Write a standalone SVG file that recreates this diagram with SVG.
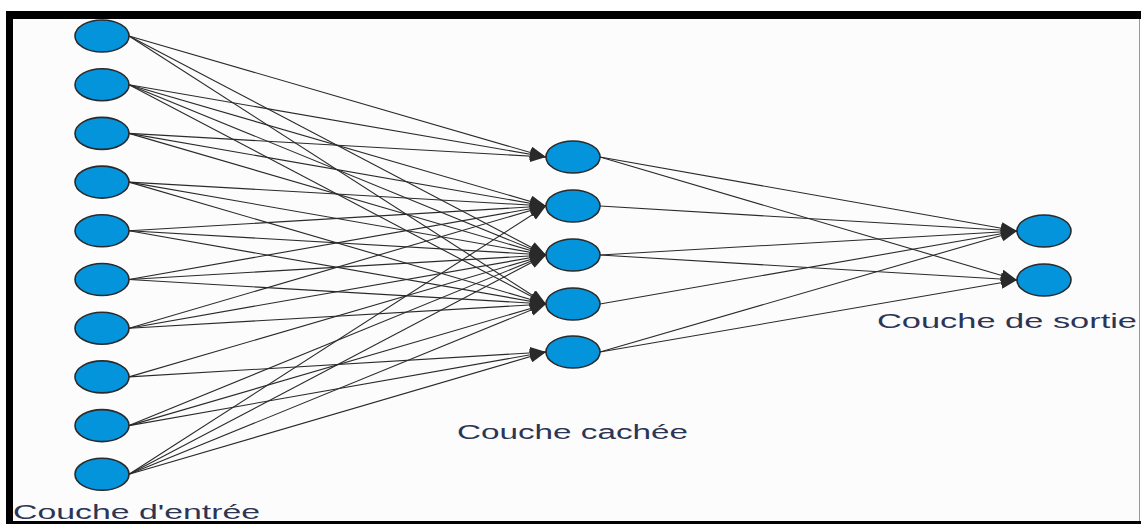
<svg xmlns="http://www.w3.org/2000/svg" width="1141" height="524" viewBox="0 0 1141 524">
<defs>
<marker id="arr" markerUnits="userSpaceOnUse" markerWidth="16" markerHeight="12" refX="16" refY="6" orient="auto">
<path d="M0,0 L16,6 L0,12 z" fill="#2a2a2a"/>
</marker>
<style>
.n{fill:#0394dc;stroke:#2a2a2a;stroke-width:1.6}
.e{stroke:#2a2a2a;stroke-width:1.1;fill:none;marker-end:url(#arr)}
.t{font-family:"Liberation Sans",Arial,sans-serif;font-size:20px;fill:#2c3554}
</style>
</defs>
<rect x="0" y="0" width="1141" height="524" fill="#ffffff"/>
<rect x="13" y="19" width="1126" height="502" fill="#fcfcfc"/>
<g id="frame">
<rect x="6" y="11" width="1135" height="8" fill="#000"/>
<rect x="6" y="11" width="7" height="513" fill="#000"/>
<rect x="6" y="521" width="1135" height="3" fill="#000"/>
<rect x="1139" y="19" width="1" height="502" fill="#999"/>
</g>
<g id="connectors">
<line class="e" x1="129" y1="36" x2="546" y2="157"/>
<line class="e" x1="129" y1="36" x2="546" y2="255"/>
<line class="e" x1="129" y1="36" x2="546" y2="304"/>
<line class="e" x1="129" y1="84.7" x2="546" y2="157"/>
<line class="e" x1="129" y1="84.7" x2="546" y2="206"/>
<line class="e" x1="129" y1="84.7" x2="546" y2="255"/>
<line class="e" x1="129" y1="84.7" x2="546" y2="304"/>
<line class="e" x1="129" y1="133.4" x2="546" y2="157"/>
<line class="e" x1="129" y1="133.4" x2="546" y2="206"/>
<line class="e" x1="129" y1="133.4" x2="546" y2="255"/>
<line class="e" x1="129" y1="182.1" x2="546" y2="206"/>
<line class="e" x1="129" y1="182.1" x2="546" y2="255"/>
<line class="e" x1="129" y1="182.1" x2="546" y2="304"/>
<line class="e" x1="129" y1="230.8" x2="546" y2="206"/>
<line class="e" x1="129" y1="230.8" x2="546" y2="255"/>
<line class="e" x1="129" y1="230.8" x2="546" y2="304"/>
<line class="e" x1="129" y1="279.5" x2="546" y2="206"/>
<line class="e" x1="129" y1="279.5" x2="546" y2="255"/>
<line class="e" x1="129" y1="279.5" x2="546" y2="304"/>
<line class="e" x1="129" y1="328.2" x2="546" y2="206"/>
<line class="e" x1="129" y1="328.2" x2="546" y2="255"/>
<line class="e" x1="129" y1="328.2" x2="546" y2="304"/>
<line class="e" x1="129" y1="376.9" x2="546" y2="255"/>
<line class="e" x1="129" y1="376.9" x2="546" y2="352"/>
<line class="e" x1="129" y1="425.6" x2="546" y2="255"/>
<line class="e" x1="129" y1="425.6" x2="546" y2="304"/>
<line class="e" x1="129" y1="425.6" x2="546" y2="352"/>
<line class="e" x1="129" y1="474.3" x2="546" y2="206"/>
<line class="e" x1="129" y1="474.3" x2="546" y2="255"/>
<line class="e" x1="129" y1="474.3" x2="546" y2="304"/>
<line class="e" x1="129" y1="474.3" x2="546" y2="352"/>
<line class="e" x1="600" y1="157" x2="1017" y2="231"/>
<line class="e" x1="600" y1="157" x2="1017" y2="280"/>
<line class="e" x1="600" y1="206" x2="1017" y2="231"/>
<line class="e" x1="600" y1="255" x2="1017" y2="231"/>
<line class="e" x1="600" y1="255" x2="1017" y2="280"/>
<line class="e" x1="600" y1="304" x2="1017" y2="231"/>
<line class="e" x1="600" y1="352" x2="1017" y2="231"/>
<line class="e" x1="600" y1="352" x2="1017" y2="280"/>
</g>
<g id="in1"><ellipse class="n" cx="102" cy="36" rx="27" ry="16"/></g>
<g id="in2"><ellipse class="n" cx="102" cy="84.7" rx="27" ry="16"/></g>
<g id="in3"><ellipse class="n" cx="102" cy="133.4" rx="27" ry="16"/></g>
<g id="in4"><ellipse class="n" cx="102" cy="182.1" rx="27" ry="16"/></g>
<g id="in5"><ellipse class="n" cx="102" cy="230.8" rx="27" ry="16"/></g>
<g id="in6"><ellipse class="n" cx="102" cy="279.5" rx="27" ry="16"/></g>
<g id="in7"><ellipse class="n" cx="102" cy="328.2" rx="27" ry="16"/></g>
<g id="in8"><ellipse class="n" cx="102" cy="376.9" rx="27" ry="16"/></g>
<g id="in9"><ellipse class="n" cx="102" cy="425.6" rx="27" ry="16"/></g>
<g id="in10"><ellipse class="n" cx="102" cy="474.3" rx="27" ry="16"/></g>
<g id="h1"><ellipse class="n" cx="573" cy="157" rx="27" ry="16"/></g>
<g id="h2"><ellipse class="n" cx="573" cy="206" rx="27" ry="16"/></g>
<g id="h3"><ellipse class="n" cx="573" cy="255" rx="27" ry="16"/></g>
<g id="h4"><ellipse class="n" cx="573" cy="304" rx="27" ry="16"/></g>
<g id="h5"><ellipse class="n" cx="573" cy="352" rx="27" ry="16"/></g>
<g id="o1"><ellipse class="n" cx="1044" cy="231" rx="27" ry="16"/></g>
<g id="o2"><ellipse class="n" cx="1044" cy="280" rx="27" ry="16"/></g>
<g id="labels">
<text class="t" x="13" y="519" textLength="247" lengthAdjust="spacingAndGlyphs">Couche d'entrée</text>
<text class="t" x="457" y="439" textLength="231" lengthAdjust="spacingAndGlyphs">Couche cachée</text>
<text class="t" x="877" y="328" textLength="260" lengthAdjust="spacingAndGlyphs">Couche de sortie</text>
</g>
</svg>
